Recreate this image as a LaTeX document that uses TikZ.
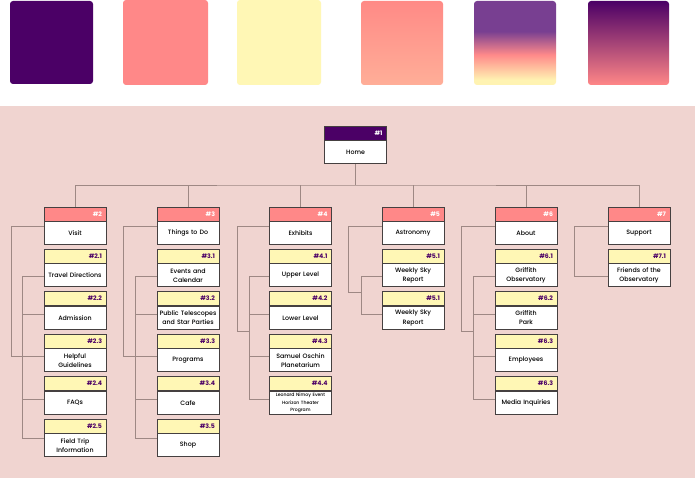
\documentclass[tikz,border=0pt]{standalone}
\usepackage{fontspec}
\setmainfont{Poppins}[UprightFont={* Medium}, BoldFont={* Bold}]
\usetikzlibrary{positioning}

\definecolor{plum}{HTML}{4B0066}
\definecolor{salmon}{HTML}{FF8888}
\definecolor{lemon}{HTML}{FFF7B5}
\definecolor{blush}{HTML}{F0D4D0}
\definecolor{boxline}{HTML}{454040}
\definecolor{linkline}{HTML}{9E8884}
\definecolor{peachtop}{HTML}{FF8A86}
\definecolor{peachbot}{HTML}{FFAE98}
\definecolor{sunpurple}{HTML}{783F91}
\definecolor{sunpink}{HTML}{FF8A8A}
\definecolor{sunyellow}{HTML}{FFF3B2}
\definecolor{duskbot}{HTML}{FF8787}

\pgfdeclareverticalshading{sunset}{100bp}{color(0bp)=(sunyellow); color(28bp)=(sunyellow); color(43bp)=(sunpink); color(57bp)=(sunpurple); color(100bp)=(sunpurple)}

\begin{document}
\begin{tikzpicture}[x=1pt, y=-1pt,
    box/.style={draw=boxline, line width=0.9pt, fill=white, minimum width=62pt,
        minimum height=23pt, text width=60pt, inner xsep=1pt, inner ysep=0pt,
        align=center, font=\fontsize{6.3}{9.3}\selectfont},
    head/.style={draw=boxline, line width=0.9pt, minimum width=62pt,
        minimum height=14pt, text width=54pt, inner xsep=4pt, inner ysep=0pt,
        align=right, font=\bfseries\fontsize{6.2}{7}\selectfont},
    homehead/.style={head, fill=plum, text=white},
    tophead/.style={head, fill=salmon, text=white},
    subhead/.style={head, fill=lemon, text=plum},
    link/.style={draw=linkline, line width=0.8pt}]
    % page and swatches
    \useasboundingbox (0,0) rectangle (695,478);
    \fill[white] (0,0) rectangle (695,106);
    \fill[blush] (0,106) rectangle (695,478);
    \fill[plum, rounded corners=3pt] (10,1) rectangle (93,84);
    \fill[salmon, rounded corners=3pt] (123,0) rectangle (208,85);
    \fill[lemon, rounded corners=3pt] (237,0) rectangle (321,85);
    \shade[top color=peachtop, bottom color=peachbot, rounded corners=3pt] (361,1) rectangle (443,85);
    \shade[shading=sunset, rounded corners=3pt] (474,1) rectangle (556,85);
    \shade[top color=plum, bottom color=duskbot, rounded corners=3pt] (588,1) rectangle (669,85);

    % home
    \node[homehead] (h1) at (355.5,133) {\#1};
    \node[box, below=0pt of h1] (n1) {Home};

    % visit
    \node[tophead] (h2) at (75,214) {\#2};
    \node[box, below=0pt of h2] (n2) {Visit};
    \node[subhead] (h21) at (75,256) {\#2.1};
    \node[box, below=0pt of h21] (n21) {Travel Directions};
    \node[subhead] (h22) at (75,298.5) {\#2.2};
    \node[box, below=0pt of h22] (n22) {Admission};
    \node[subhead] (h23) at (75,341) {\#2.3};
    \node[box, below=0pt of h23] (n23) {Helpful\\Guidelines};
    \node[subhead] (h24) at (75,383.5) {\#2.4};
    \node[box, below=0pt of h24] (n24) {FAQs};
    \node[subhead] (h25) at (75,426) {\#2.5};
    \node[box, below=0pt of h25] (n25) {Field Trip\\Information};

    % things to do
    \node[tophead] (h3) at (188,214) {\#3};
    \node[box, below=0pt of h3] (n3) {Things to Do};
    \node[subhead] (h31) at (188,256) {\#3.1};
    \node[box, below=0pt of h31] (n31) {Events and\\Calendar};
    \node[subhead] (h32) at (188,298.5) {\#3.2};
    \node[box, below=0pt of h32] (n32) {Public Telescopes\\and Star Parties};
    \node[subhead] (h33) at (188,341) {\#3.3};
    \node[box, below=0pt of h33] (n33) {Programs};
    \node[subhead] (h34) at (188,383.5) {\#3.4};
    \node[box, below=0pt of h34] (n34) {Cafe};
    \node[subhead] (h35) at (188,426) {\#3.5};
    \node[box, below=0pt of h35] (n35) {Shop};

    % exhibits
    \node[tophead] (h4) at (300.5,214) {\#4};
    \node[box, below=0pt of h4] (n4) {Exhibits};
    \node[subhead] (h41) at (300.5,256) {\#4.1};
    \node[box, below=0pt of h41] (n41) {Upper Level};
    \node[subhead] (h42) at (300.5,298.5) {\#4.2};
    \node[box, below=0pt of h42] (n42) {Lower Level};
    \node[subhead] (h43) at (300.5,341) {\#4.3};
    \node[box, below=0pt of h43] (n43) {Samuel Oschin\\Planetarium};
    \node[subhead] (h44) at (300.5,383.5) {\#4.4};
    \node[box, below=0pt of h44, font=\fontsize{4.6}{7.1}\selectfont] (n44) {Leonard Nimoy Event\\Horizon Theater\\Program};

    % astronomy
    \node[tophead] (h5) at (413,214) {\#5};
    \node[box, below=0pt of h5] (n5) {Astronomy};
    \node[subhead] (h51) at (413,256) {\#5.1};
    \node[box, below=0pt of h51] (n51) {Weekly Sky\\Report};
    \node[subhead] (h52) at (413,298.5) {\#5.1};
    \node[box, below=0pt of h52] (n52) {Weekly Sky\\Report};

    % about
    \node[tophead] (h6) at (526,214) {\#6};
    \node[box, below=0pt of h6] (n6) {About};
    \node[subhead] (h61) at (526,256) {\#6.1};
    \node[box, below=0pt of h61] (n61) {Griffith\\Observatory};
    \node[subhead] (h62) at (526,298.5) {\#6.2};
    \node[box, below=0pt of h62] (n62) {Griffith\\Park};
    \node[subhead] (h63) at (526,341) {\#6.3};
    \node[box, below=0pt of h63] (n63) {Employees};
    \node[subhead] (h64) at (526,383.5) {\#6.3};
    \node[box, below=0pt of h64] (n64) {Media Inquiries};

    % support
    \node[tophead] (h7) at (639,214) {\#7};
    \node[box, below=0pt of h7] (n7) {Support};
    \node[subhead] (h71) at (639,256) {\#7.1};
    \node[box, below=0pt of h71] (n71) {Friends of the\\Observatory};

    % top level links
    \coordinate (bus) at (355.5,185);
    \draw[link] (n1.south) -- (bus);
    \draw[link] (h2.north) |- (bus) -| (h7.north);
    \draw[link] (h3.north) -- (h3.north |- bus);
    \draw[link] (h4.north) -- (h4.north |- bus);
    \draw[link] (h5.north) -- (h5.north |- bus);
    \draw[link] (h6.north) -- (h6.north |- bus);

    % column links
    \draw[link] ([yshift=7pt]n2.west) -- ++(-32,0) |- ([yshift=4pt]n23.west);
    \draw[link] ([yshift=-1pt]n21.west) -- ++(-21,0) |- ([yshift=7pt]n25.west);
    \draw[link] ([yshift=4pt]n22.west) -- ++(-21,0);
    \draw[link] ([yshift=4pt]n24.west) -- ++(-21,0);

    \draw[link] ([yshift=7pt]n3.west) -- ++(-33,0) |- ([yshift=4pt]n33.west);
    \draw[link] ([yshift=-1pt]n31.west) -- ++(-21,0) |- ([yshift=7pt]n35.west);
    \draw[link] ([yshift=4pt]n32.west) -- ++(-21,0);
    \draw[link] ([yshift=4pt]n34.west) -- ++(-21,0);

    \coordinate (j4) at (249,331);
    \draw[link] ([yshift=7pt]n4.west) -- ++(-32,0) |- (j4);
    \draw[link] ([yshift=-1pt]n41.west) -- ++(-20,0) |- ([yshift=4pt]n44.west);
    \draw[link] ([yshift=4pt]n42.west) -- ++(-20,0);
    \draw[link] ([yshift=4pt]n43.west) -- ++(-20,0);

    \coordinate (j5) at (362,292);
    \draw[link] ([yshift=7pt]n5.west) -- ++(-33,0) |- (j5);
    \draw[link] ([yshift=-1pt]n51.west) -- ++(-20,0) |- ([yshift=4pt]n52.west);

    \coordinate (j6) at (474,331);
    \draw[link] ([yshift=7pt]n6.west) -- ++(-33,0) |- (j6);
    \draw[link] ([yshift=-1pt]n61.west) -- ++(-21,0) |- ([yshift=4pt]n64.west);
    \draw[link] ([yshift=4pt]n62.west) -- ++(-21,0);
    \draw[link] ([yshift=4pt]n63.west) -- ++(-21,0);

    \draw[link] ([yshift=7pt]n7.west) -- ++(-33,0) |- ([yshift=-1pt]n71.west);
\end{tikzpicture}
\end{document}
